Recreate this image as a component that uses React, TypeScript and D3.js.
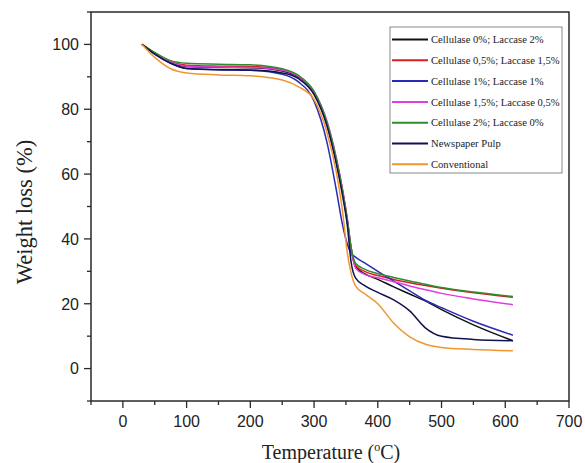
import React from 'react';
import * as d3 from 'd3';

// temperature samples (°C) shared by every curve
const temps = [30, 50, 75, 100, 150, 200, 250, 275, 300, 320, 335, 345, 352, 358, 365, 380, 400, 425, 450, 475, 500, 550, 612];

const cel0lac2 = [100, 97.2, 94.5, 93.2, 92.9, 92.8, 91.8, 90, 85, 75.5, 64, 54, 45.5, 37, 31.5, 29.2, 27.5, 25.2, 23, 20.8, 18.2, 13.5, 8.6];
const cel05lac15 = [100, 97.3, 94.7, 93.6, 93.3, 93.2, 92.2, 90.3, 85.2, 76, 64.5, 54.5, 46, 37.5, 31.8, 29.9, 28.7, 27.5, 26.5, 25.6, 24.8, 23.4, 22];
const cel1lac1 = [100, 97, 94.2, 92.6, 92.2, 92, 90.8, 88.5, 82.5, 70, 55, 44, 38.5, 35.6, 34.4, 32.5, 30, 27, 24, 21, 18.8, 14.6, 10.3];
const cel15lac05 = [100, 97.3, 94.6, 93.3, 93, 92.9, 92, 90.2, 85.4, 76.5, 65, 55, 46.5, 37.5, 31, 29, 28, 26.8, 25.5, 24.3, 23.2, 21.5, 19.7];
const cel2lac0 = [100, 97.5, 95, 94.2, 93.9, 93.7, 92.5, 90.5, 85.5, 76, 64.5, 54.5, 46, 37.5, 32.5, 30.6, 29.3, 28.1, 27, 26, 25, 23.6, 22.2];
const newspaper = [100, 97, 94.2, 92.6, 92.2, 92.1, 91.2, 89.5, 84.5, 75, 63, 53, 44.5, 33, 28, 25.5, 23.5, 21.2, 17.8, 12.5, 10, 9.0, 8.6];
const conventional = [100, 96, 92.5, 91.2, 90.6, 90.3, 89, 87, 83, 73, 60.5, 48, 36, 29.5, 25.5, 23, 20, 14, 9.8, 7.5, 6.5, 5.9, 5.5];

const labels = [
  'Cellulase 0%; Laccase 2%',
  'Cellulase 0,5%; Laccase 1,5%',
  'Cellulase 1%; Laccase 1%',
  'Cellulase 1,5%; Laccase 0,5%',
  'Cellulase 2%; Laccase 0%',
  'Newspaper Pulp',
  'Conventional',
];
const seriesValues = [cel0lac2, cel05lac15, cel1lac1, cel15lac05, cel2lac0, newspaper, conventional];
const colors = ['#111111', '#d42020', '#2a2ab8', '#e03ce0', '#2e8b2e', '#12124e', '#f0962e'];

const xTicks = [0, 100, 200, 300, 400, 500, 600, 700];
const yTicks = [0, 20, 40, 60, 80, 100];

export default function App() {
  const W = 585, H = 463;
  const left = 91, right = 569, top = 12, bottom = 401;

  const x = d3.scaleLinear().domain([-50, 700]).range([left, right]);
  const y = d3.scaleLinear().domain([-10, 110]).range([bottom, top]);

  const line = d3.line<[number, number]>()
    .x(d => x(d[0]))
    .y(d => y(d[1]))
    .curve(d3.curveMonotoneX);

  const xMinor = d3.range(-50, 701, 50).filter(v => v % 100 !== 0);
  const yMinor = d3.range(-10, 111, 10).filter(v => v % 20 !== 0);

  const axisColor = '#2a2a2a';
  const sans = '"Liberation Sans", Arial, sans-serif';
  const serif = '"Liberation Serif", "Times New Roman", serif';

  const legX = 390, legY = 27, legW = 172, legH = 146;
  const rowY = (i: number) => 39.5 + i * 20.8;

  return (
    <svg width={W} height={H} style={{ position: 'absolute', left: 0, top: 0, background: '#fff' }}>
      {/* curves */}
      {seriesValues.map((vals, i) => (
        <path key={i}
          d={line(temps.map((t, j) => [t, vals[j]] as [number, number])) || ''}
          fill="none" stroke={colors[i]} strokeWidth={1.5} />
      ))}

      {/* frame */}
      <rect x={left} y={top} width={right - left} height={bottom - top} fill="none" stroke={axisColor} strokeWidth={1.5} />

      {/* x ticks */}
      {xTicks.map(t => (
        <g key={t}>
          <line x1={x(t)} x2={x(t)} y1={bottom} y2={bottom + 7} stroke={axisColor} strokeWidth={1.3} />
          <text x={x(t)} y={427} textAnchor="middle" fontFamily={sans} fontSize={16} fill="#222">{t}</text>
        </g>
      ))}
      {xMinor.map(t => (
        <line key={t} x1={x(t)} x2={x(t)} y1={bottom} y2={bottom + 4} stroke={axisColor} strokeWidth={1.3} />
      ))}

      {/* y ticks */}
      {yTicks.map(t => (
        <g key={t}>
          <line x1={left - 7} x2={left} y1={y(t)} y2={y(t)} stroke={axisColor} strokeWidth={1.3} />
          <text x={79} y={y(t) + 5.8} textAnchor="end" fontFamily={sans} fontSize={16} fill="#222">{t}</text>
        </g>
      ))}
      {yMinor.map(t => (
        <line key={t} x1={left - 4} x2={left} y1={y(t)} y2={y(t)} stroke={axisColor} strokeWidth={1.3} />
      ))}

      {/* axis titles */}
      <text x={331} y={459} textAnchor="middle" fontFamily={serif} fontSize={20} fill="#222">
        Temperature (<tspan fontSize={12} dy={-8}>o</tspan><tspan dy={8}>C)</tspan>
      </text>
      <text transform="translate(32,212) rotate(-90)" textAnchor="middle" fontFamily={serif} fontSize={22.5} fill="#222">
        Weight loss (%)
      </text>

      {/* legend */}
      <rect x={legX} y={legY} width={legW} height={legH} fill="#fff" stroke="#888" strokeWidth={1} />
      {labels.map((lab, i) => (
        <g key={lab}>
          <line x1={392} x2={428} y1={rowY(i)} y2={rowY(i)} stroke={colors[i]} strokeWidth={2} />
          <text x={431} y={rowY(i) + 3.6} fontFamily={serif} fontSize={10.6} fill="#222">{lab}</text>
        </g>
      ))}
    </svg>
  );
}
